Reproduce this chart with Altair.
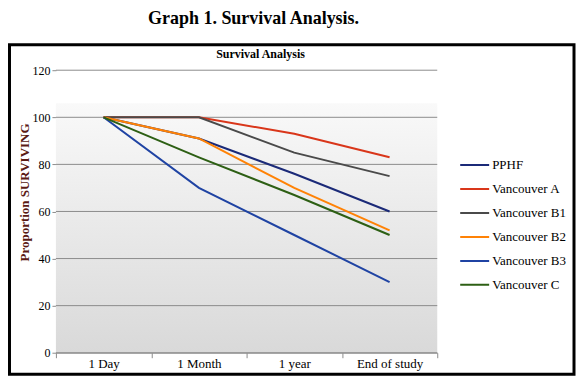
import altair as alt
import pandas as pd

times = ["1 Day", "1 Month", "1 year", "End of study"]
series = ["PPHF", "Vancouver A", "Vancouver B1", "Vancouver B2", "Vancouver B3", "Vancouver C"]
pphf = [100, 91, 76, 60]
van_a = [100, 100, 93, 83]
van_b1 = [100, 100, 85, 75]
van_b2 = [100, 91, 70, 52]
van_b3 = [100, 70, 50, 30]
van_c = [100, 83, 67, 50]
colors = ["#1b2a78", "#d9361a", "#4a4a4a", "#ff8205", "#1f43a3", "#2d5f14"]
y_ticks = [0, 20, 40, 60, 80, 100, 120]

rows = []
for name, vals in zip(series, [pphf, van_a, van_b1, van_b2, van_b3, van_c]):
    for t, v in zip(times, vals):
        rows.append({"series": name, "time": t, "value": v})
df = pd.DataFrame(rows)
ticks_df = pd.DataFrame({"value": y_ticks})

SERIF = "'Liberation Serif', 'Times New Roman', serif"
GRID = "#8c8c8c"
W, H = 382, 283

yscale = alt.Scale(domain=[0, 120], nice=False)

lines = alt.Chart(df).mark_line(strokeWidth=2).encode(
    x=alt.X("time:N", sort=times, bandPosition=0.5,
            scale=alt.Scale(type="band", paddingInner=0, paddingOuter=0),
            axis=alt.Axis(title=None, labelAngle=0, tickBand="extent", tickSize=5,
                          tickColor=GRID, domainColor=GRID, labelFont=SERIF,
                          labelFontSize=13, labelColor="black", labelPadding=0, grid=False)),
    y=alt.Y("value:Q", scale=yscale,
            axis=alt.Axis(values=y_ticks, grid=False, domain=False,
                          tickSize=4, tickColor=GRID, labelFont=SERIF, labelFontSize=12,
                          labelColor="black", labelPadding=2,
                          title="Proportion SURVIVING", titleFont=SERIF, titleFontSize=13,
                          titleFontWeight="bold", titleColor="#5a1a14", titleAngle=270,
                          titleX=-31, titleY=122, titleAlign="center", titleBaseline="middle")),
    color=alt.Color("series:N", sort=series,
                    scale=alt.Scale(domain=series, range=colors),
                    legend=alt.Legend(title=None, orient="none", legendX=404, legendY=83,
                                      symbolType="stroke", symbolStrokeWidth=2,
                                      symbolSize=841, clipHeight=24, rowPadding=0,
                                      labelOffset=2, labelFont=SERIF, labelFontSize=13,
                                      labelColor="black")),
    order=alt.Order("series:N"),
)

gridlines = alt.Chart(ticks_df).mark_rule(color=GRID, strokeWidth=1).encode(
    y=alt.Y("value:Q", scale=yscale),
    x=alt.value(0), x2=alt.value(W),
)

one = pd.DataFrame({"k": [0]})
gradient = {
    "gradient": "linear", "x1": 0, "y1": 0, "x2": 0, "y2": 1,
    "stops": [
        {"offset": 0, "color": "#f9f9f9"},
        {"offset": 1, "color": "#d9d9d9"},
    ],
}
bg = alt.Chart(one).mark_rect(fill=gradient, strokeWidth=0).encode(
    x=alt.value(0), x2=alt.value(W), y=alt.value(33), y2=alt.value(H)
)
frame = alt.Chart(one).mark_rect(fillOpacity=0, stroke="black", strokeWidth=3).encode(
    x=alt.value(-46.5), x2=alt.value(519), y=alt.value(-25.5), y2=alt.value(304.5)
)
main_title = alt.Chart(one).mark_text(
    font=SERIF, fontSize=18, fontWeight="bold", color="black", align="center", baseline="alphabetic"
).encode(x=alt.value(198), y=alt.value(-46), text=alt.value("Graph 1. Survival Analysis."))
inner_title = alt.Chart(one).mark_text(
    font=SERIF, fontSize=12, fontWeight="bold", color="black", align="center", baseline="alphabetic"
).encode(x=alt.value(205), y=alt.value(-12), text=alt.value("Survival Analysis"))

chart = alt.layer(bg, gridlines, lines, frame, main_title, inner_title).properties(
    width=W, height=H,
    autosize=alt.AutoSizeParams(type="none"),
    padding={"left": 48, "top": 62, "right": 140, "bottom": 24},
    background="white",
).configure_view(stroke="transparent")

chart.save("out.html", embed_options={"renderer": "svg", "actions": False})
